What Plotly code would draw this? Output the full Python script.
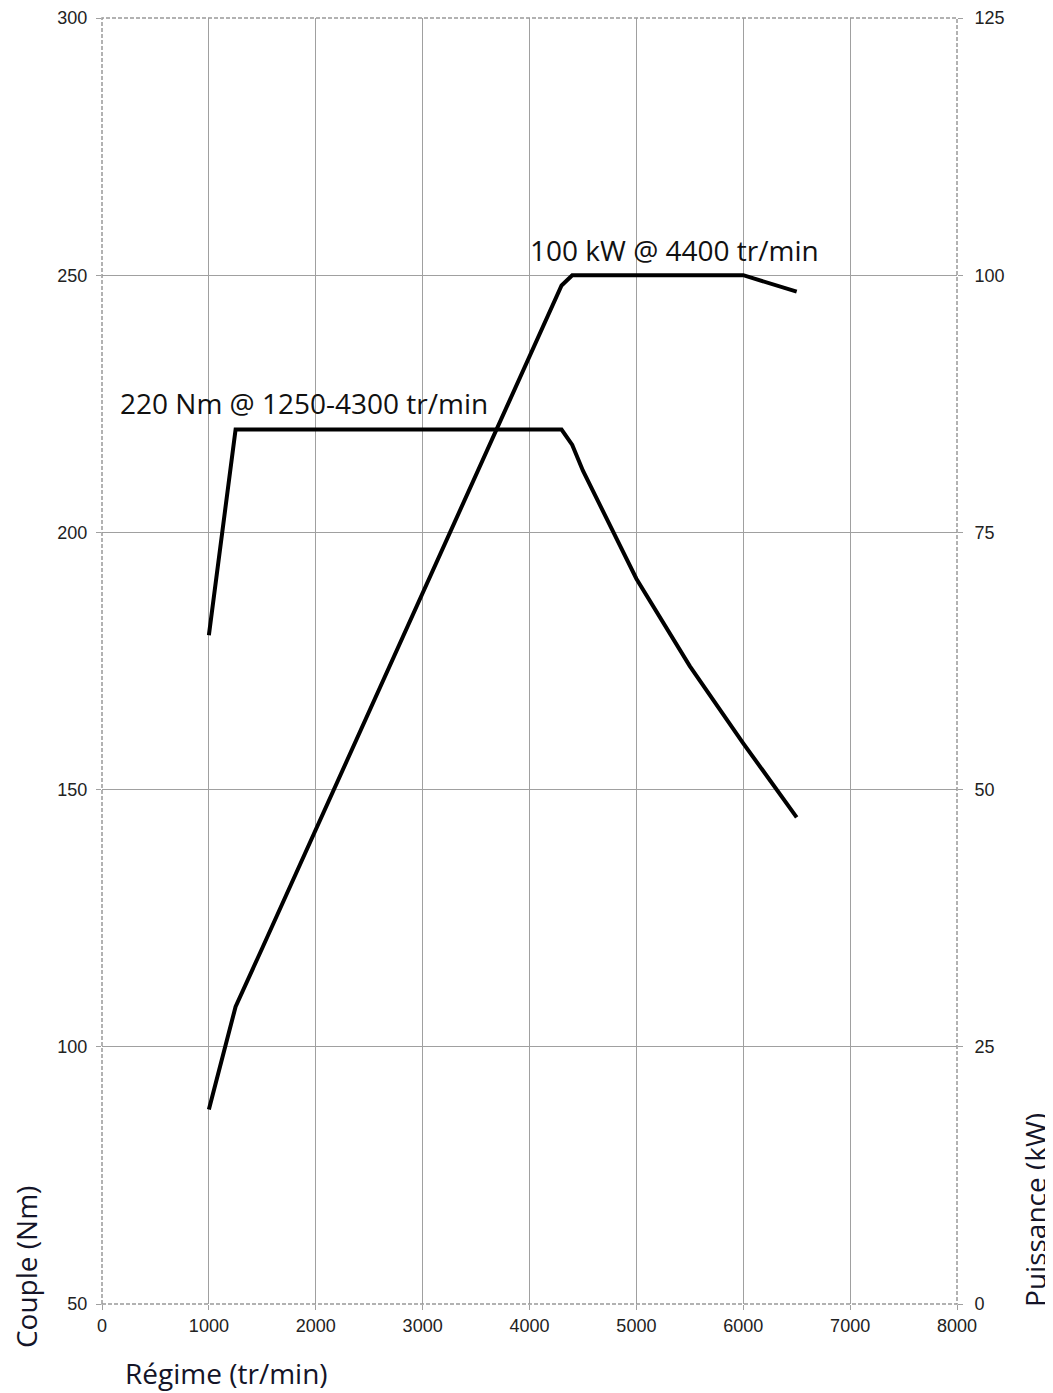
import plotly.graph_objects as go

# Data
rpm_torque = [1000, 1250, 4300, 4400, 4500, 5000, 5500, 6000, 6500]
torque_nm = [180, 220, 220, 217, 212, 191, 174, 159, 144.6]

rpm_power = [1000, 1250, 1500, 2000, 2500, 3000, 3500, 4000, 4300, 4400, 6000, 6500]
power_kw = [18.9, 28.9, 34.6, 46.1, 57.6, 69.1, 80.6, 92.2, 99.0, 100, 100, 98.4]

x_ticks = [0, 1000, 2000, 3000, 4000, 5000, 6000, 7000, 8000]
y_ticks = [50, 100, 150, 200, 250, 300]
y2_ticks = [0, 25, 50, 75, 100, 125]

label_torque = "220 Nm @ 1250-4300 tr/min"
label_power = "100 kW @ 4400 tr/min"

fig = go.Figure()
fig.add_trace(go.Scatter(x=rpm_torque, y=torque_nm, mode="lines",
                         line=dict(color="black", width=4), yaxis="y", showlegend=False))
fig.add_trace(go.Scatter(x=rpm_power, y=power_kw, mode="lines",
                         line=dict(color="black", width=4), yaxis="y2", showlegend=False))

tick_font = dict(family="Liberation Sans, Arial", size=18, color="#222")
title_font = dict(family="Open Sans, Noto Sans", size=28, color="#141428")
ann_font = dict(family="Open Sans, Noto Sans", size=28, color="#111")

axis_common = dict(zeroline=False, ticks="outside", ticklen=5, tickcolor="#a0a0a0",
                   tickfont=tick_font, showline=False, automargin=False,
                   ticklabeloverflow="allow")

fig.update_layout(
    width=1045, height=1385,
    margin=dict(l=94, r=96, t=10, b=89, autoexpand=False),
    paper_bgcolor="white", plot_bgcolor="white",
    xaxis=dict(range=[0, 8000], tickvals=x_ticks, showgrid=True, gridcolor="#a0a0a0",
               gridwidth=1, **axis_common),
    yaxis=dict(range=[50, 300], tickvals=y_ticks, showgrid=True, gridcolor="#a0a0a0",
               gridwidth=1, ticklabelstandoff=5, **axis_common),
    yaxis2=dict(range=[0, 125], tickvals=y2_ticks, overlaying="y", side="right",
                showgrid=False, ticklabelstandoff=8, **axis_common),
    shapes=[dict(type="rect", xref="paper", yref="paper", x0=0, y0=0, x1=1, y1=1,
                 line=dict(color="#999999", width=1.5, dash="4px,2px"))],
    annotations=[
        dict(x=1250, y=220, xref="x", yref="y", text=label_torque, showarrow=False,
             xanchor="left", yanchor="middle", xshift=-118, yshift=27, font=ann_font),
        dict(x=4400, y=100, xref="x", yref="y2", text=label_power, showarrow=False,
             xanchor="left", yanchor="middle", xshift=-44, yshift=25, font=ann_font),
        dict(x=-0.088, y=-0.036, xref="paper", yref="paper", text="Couple (Nm)",
             textangle=-90, showarrow=False, xanchor="center", yanchor="bottom",
             font=title_font),
        dict(x=1.091, y=-0.004, xref="paper", yref="paper", text="Puissance (kW)",
             textangle=-90, showarrow=False, xanchor="center", yanchor="bottom",
             font=title_font),
        dict(x=0.025, y=-0.0537, xref="paper", yref="paper", text="Régime (tr/min)",
             showarrow=False, xanchor="left", yanchor="middle", font=title_font),
    ],
)

fig.write_html("out.html")
